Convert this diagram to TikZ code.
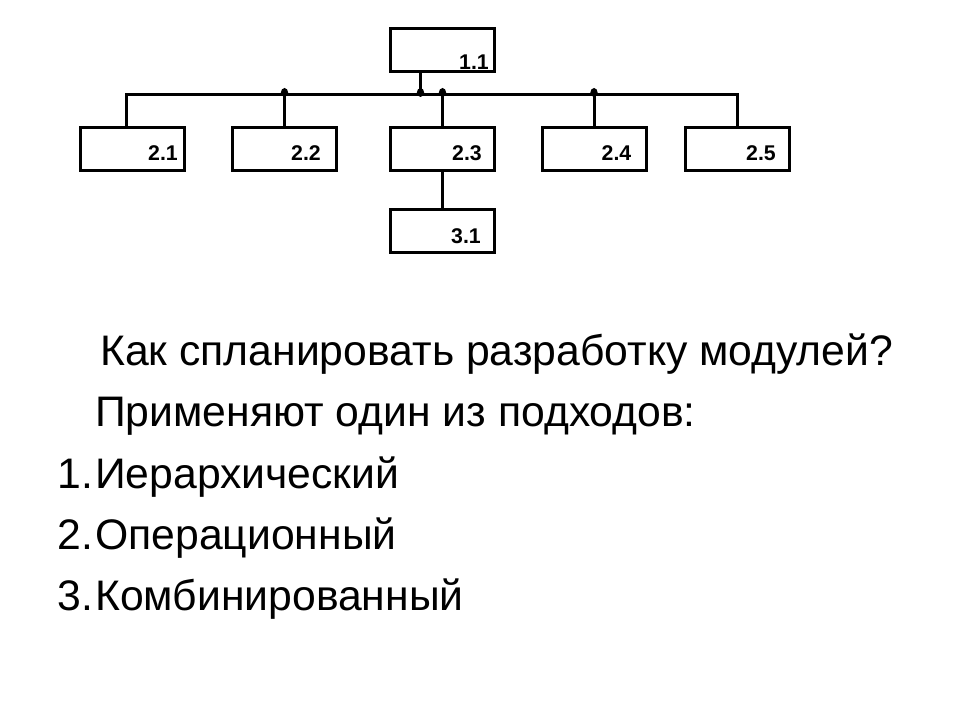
\documentclass[tikz,border=0pt]{standalone}
\usepackage{fontspec}
\setmainfont{Liberation Sans}

\tikzset{
  modbox/.style={draw, line width=3pt, minimum width=104pt, minimum height=43pt, inner sep=0pt},
  modlbl/.style={font=\bfseries\fontsize{21.3}{24}\selectfont, inner sep=0pt, anchor=base west},
  slidetxt/.style={font=\fontsize{42.7}{48}\selectfont, inner sep=0pt, anchor=base west},
  wire/.style={line width=3pt},
  joint/.style={fill=black},
}

\begin{document}
\begin{tikzpicture}[x=1pt,y=1pt]
    \useasboundingbox (0,0) rectangle (960,720);
    %level 1
    \node[modbox] (b11) at (442.5,670) {};
    \node[modlbl] (l11) at ([shift={(70,3)}]b11.south west) {1.1};
    %level 2
    \node[modbox] (b21) at (132.5,570.5) {};
    \node[modbox] (b22) at (284.5,570.5) {};
    \node[modbox] (b23) at (442.5,570.5) {};
    \node[modbox] (b24) at (594,570.5) {};
    \node[modbox] (b25) at (737.5,570.5) {};
    \node[modlbl] (l21) at ([shift={(69,12)}]b21.south west) {2.1};
    \node[modlbl] (l22) at ([shift={(60,12)}]b22.south west) {2.2};
    \node[modlbl] (l23) at ([shift={(63,12)}]b23.south west) {2.3};
    \node[modlbl] (l24) at ([shift={(61,12)}]b24.south west) {2.4};
    \node[modlbl] (l25) at ([shift={(62,12)}]b25.south west) {2.5};
    %level 3
    \node[modbox] (b31) at (442.5,488.5) {};
    \node[modlbl] (l31) at ([shift={(62,11)}]b31.south west) {3.1};
    %bus
    \coordinate (bus) at (0,625);
    \coordinate (t11) at ([xshift=-22pt]b11.south);
    \coordinate (t21) at ([xshift=-6.5pt]b21.north);
    \draw[wire] (t11) -- (t11 |- bus);
    \draw[wire] (t21) -- (t21 |- bus) -- (b25.north |- bus) -- (b25.north);
    \foreach \b in {b22,b23,b24}
        \draw[wire] (\b.north) -- (\b.north |- bus);
    \foreach \b in {t11,b22,b23,b24}
        \fill[joint] ([yshift=2.5pt]\b |- bus) ellipse [x radius=3.6pt, y radius=4.5pt];
    \draw[wire] (b23) -- (b31);
    %text
    \node[slidetxt] (q1) at (100,354) {Как спланировать разработку модулей?};
    \node[slidetxt] (q2) at (95,293) {Применяют один из подходов:};
    \node[slidetxt] (n1) at (57.5,231) {1.};
    \node[slidetxt] (i1) at (95,231) {Иерархический};
    \node[slidetxt] (n2) at (57.5,170) {2.};
    \node[slidetxt] (i2) at (95,170) {Операционный};
    \node[slidetxt] (n3) at (57.5,110) {3.};
    \node[slidetxt] (i3) at (95,110) {Комбинированный};
\end{tikzpicture}
\end{document}
